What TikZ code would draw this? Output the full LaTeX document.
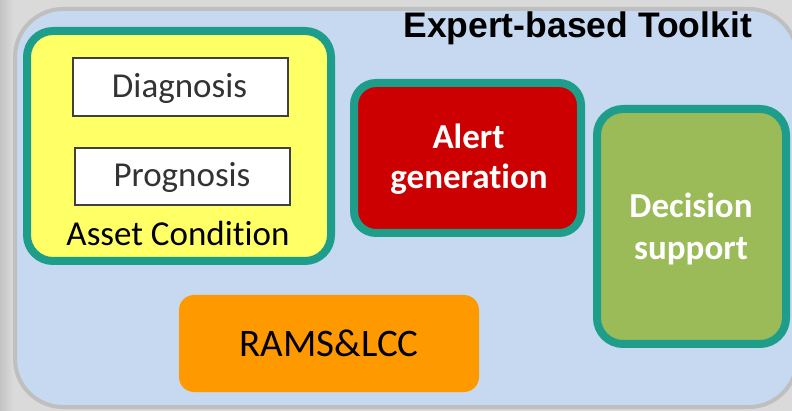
\documentclass[tikz,border=0pt]{standalone}
\usepackage{fontspec}
\setmainfont{Carlito}[Ligatures={NoCommon}]
\newfontfamily\headfont{Liberation Sans}
\definecolor{bggray}{RGB}{218,218,218}
\definecolor{bgdark}{RGB}{196,196,196}
\definecolor{framegray}{RGB}{191,191,191}
\definecolor{toolblue}{RGB}{198,217,240}
\definecolor{tealline}{RGB}{30,158,138}
\definecolor{assetyellow}{RGB}{255,255,102}
\definecolor{alertred}{RGB}{204,0,0}
\definecolor{decgreen}{RGB}{155,187,89}
\definecolor{ramsorange}{RGB}{255,153,0}
\definecolor{boxline}{RGB}{64,64,64}
\definecolor{boxtext}{RGB}{51,51,51}
\begin{document}
\begin{tikzpicture}[x=1pt,y=-1pt,
  panel/.style={draw=tealline, line width=8pt, inner sep=0pt, outer sep=0pt},
  subbox/.style={draw=boxline, fill=white, line width=1.3pt, inner sep=0pt},
  bodytext/.style={font=\fontsize{35}{41}\selectfont, inner sep=0pt, anchor=base},
  whitetext/.style={font=\fontsize{35}{41}\selectfont\bfseries, text=white, inner sep=0pt, anchor=base}]
\useasboundingbox (0,0) rectangle (792,411);
% backdrop with a soft shadow along the left edge
\fill[bggray] (0,0) rectangle (792,411);
\shade[left color=bgdark, right color=bggray] (0,0) rectangle (13,411);
% toolkit frame
\draw[draw=framegray, fill=toolblue, line width=4pt, rounded corners=48pt]
  (15,9) rectangle (797,407);
\node[font=\headfont\fontsize{35.5}{41}\selectfont\bfseries, inner sep=0pt, anchor=base east]
  (title) at (752,38) {Expert-based Toolkit};

% asset condition panel
\node[panel, fill=assetyellow, rounded corners=26pt, minimum width=304pt, minimum height=230pt]
  (asset) at (179,146) {};
\node[subbox, minimum width=215pt, minimum height=58pt] (diagbox) at (180.5,87) {};
\node[bodytext, text=boxtext] (diag) at (179.5,98) {Diagnosis};
\node[subbox, minimum width=215pt, minimum height=57pt] (progbox) at (182.5,176.5) {};
\node[bodytext, text=boxtext] (prog) at (182,187) {Prognosis};
\node[bodytext] (assetlbl) at (178,245.5) {Asset Condition};

% alert generation panel
\node[panel, fill=alertred, rounded corners=22pt, minimum width=227pt, minimum height=150pt]
  (alert) at (467.5,158) {};
\node[whitetext] (alert1) at (468.5,149) {Alert};
\node[whitetext] (alert2) at (469,189) {generation};

% decision support panel
\node[panel, fill=decgreen, rounded corners=26pt, minimum width=189pt, minimum height=235pt]
  (decision) at (691.5,226.5) {};
\node[whitetext] (dec1) at (691,218) {Decision};
\node[whitetext] (dec2) at (691,260) {support};

% RAMS & LCC block
\node[fill=ramsorange, rounded corners=15pt, minimum width=300pt, minimum height=97pt, inner sep=0pt]
  (rams) at (329,343.5) {};
\node[bodytext, font=\fontsize{39}{45}\selectfont] (ramslbl) at (329,356) {RAMS\&LCC};
\end{tikzpicture}
\end{document}
